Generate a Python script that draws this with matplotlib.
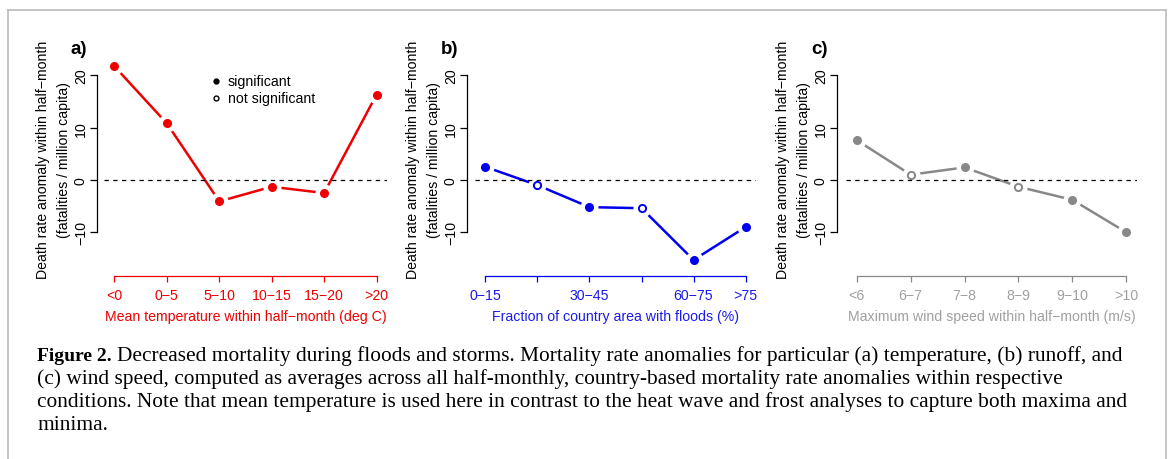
import matplotlib
matplotlib.use('Agg')
import matplotlib.pyplot as plt
from matplotlib.lines import Line2D
import numpy as np

plt.rcParams['font.family'] = ['Liberation Sans', 'DejaVu Sans']

# data
temp_cats = ['<0', '0−5', '5−10', '10−15', '15−20', '>20']
temp_vals = [21.7, 10.8, -4.1, -1.3, -2.5, 16.3]
temp_sig = [True, True, True, True, True, True]

flood_cats = ['0−15', '15−30', '30−45', '45−60', '60−75', '>75']
flood_vals = [2.5, -1.0, -5.2, -5.4, -15.3, -9.0]
flood_sig = [True, False, True, False, True, True]
flood_show = [True, False, True, False, True, True]   # R dropped overlapping labels

wind_cats = ['<6', '6−7', '7−8', '8−9', '9−10', '>10']
wind_vals = [7.6, 1.0, 2.4, -1.3, -3.8, -10.0]
wind_sig = [True, False, True, False, True, True]

yticks = [-10, 0, 10, 20]
ylab1 = 'Death rate anomaly within half−month'
ylab2 = '(fatalities / million capita)'

W, H = 1169, 460
FS = 10.2
fig = plt.figure(figsize=(W / 100, H / 100), dpi=100)


def px(x, y):
    return x / W, 1 - y / H


def panel(left, right, spine_x, cats, vals, sig, col, txtcol, xlabel, tag, show=None):
    top, bottom = 58, 272.5
    ax = fig.add_axes([left / W, 1 - bottom / H, (right - left) / W, (bottom - top) / H])
    ax.set_xlim(0.8, 6.2)
    ax.set_ylim(-17.5, 23.5)
    ax.patch.set_alpha(0)
    for s in ['top', 'right']:
        ax.spines[s].set_visible(False)
    ax.spines['left'].set_position(('outward', (left - spine_x) * 0.72))
    ax.spines['left'].set_bounds(-10, 20)
    ax.spines['bottom'].set_position(('outward', 4.5 * 0.72))
    ax.spines['bottom'].set_bounds(1, 6)
    ax.spines['left'].set_linewidth(0.9)
    ax.spines['bottom'].set_linewidth(0.9)
    ax.spines['bottom'].set_color(col)

    x = np.arange(1, len(vals) + 1)
    ax.set_xticks(x)
    labels = cats if show is None else [c if s else '' for c, s in zip(cats, show)]
    ax.set_xticklabels(labels, color=txtcol, fontsize=FS)
    ax.tick_params(axis='x', colors=col, labelcolor=txtcol, length=4.5, width=0.9, pad=4.5)
    ax.set_yticks(yticks)
    ax.set_yticklabels([str(v).replace('-', '−') for v in yticks], rotation=90, va='center', fontsize=FS)
    ax.tick_params(axis='y', length=5, width=0.9, pad=1.5)
    ax.set_xlabel(xlabel, color=txtcol, fontsize=FS, labelpad=5)

    # type="b" style: line with gaps around the points
    ax.plot(x, vals, color=col, lw=1.8, zorder=2, solid_capstyle='butt')
    ax.plot(x, vals, 'o', ms=13, mfc='white', mec='none', zorder=3)
    sig = np.array(sig)
    v = np.array(vals)
    ax.plot(x[sig], v[sig], 'o', ms=5.5, color=col, mec=col, zorder=4)
    ax.plot(x[~sig], v[~sig], 'o', ms=5.2, mfc='white', mec=col, mew=1.4, zorder=4)
    ax.axhline(0, color='black', lw=0.9, ls=(0, (3.5, 3.5)), zorder=5)

    ax.text(-0.09, 1.04, tag, transform=ax.transAxes, fontsize=13.5,
            fontweight='bold', ha='center', va='center')
    fig.text(*px(spine_x - 54, 160), ylab1, rotation=90, ha='center', va='center', fontsize=FS)
    fig.text(*px(spine_x - 33, 160), ylab2, rotation=90, ha='center', va='center', fontsize=FS)
    return ax


axa = panel(104, 387, 97, temp_cats, temp_vals, temp_sig, '#ee0000', '#ee0000',
            'Mean temperature within half−month (deg C)', 'a)')
axb = panel(475, 756, 467, flood_cats, flood_vals, flood_sig, '#0000ee', '#1a1aee',
            'Fraction of country area with floods (%)', 'b)', show=flood_show)
axc = panel(846, 1137, 837, wind_cats, wind_vals, wind_sig, '#888888', '#a0a0a0',
            'Maximum wind speed within half−month (m/s)', 'c)')

# legend of panel a
fig.add_artist(Line2D([216 / W], [1 - 82 / H], marker='o', ms=3.5, color='black', ls='none'))
fig.add_artist(Line2D([216 / W], [1 - 99 / H], marker='o', ms=3.5, mfc='white', mec='black',
                      mew=1.0, ls='none'))
fig.text(*px(228, 82), 'significant', fontsize=FS, va='center')
fig.text(*px(228, 99), 'not significant', fontsize=FS, va='center')

# frame
frame_col = '#bbbbbb'
fig.add_artist(Line2D([8 / W, 1166 / W], [1 - 11 / H, 1 - 11 / H], color=frame_col, lw=1.2))
fig.add_artist(Line2D([8 / W, 8 / W], [1 - 11 / H, 0], color=frame_col, lw=1.2))
fig.add_artist(Line2D([1166 / W, 1166 / W], [1 - 11 / H, 0], color=frame_col, lw=1.2))

# caption
cap_font = ['Liberation Serif', 'DejaVu Serif']
cap_size = 15.4
lines = [
    'Decreased mortality during floods and storms. Mortality rate anomalies for particular (a) temperature, (b) runoff, and',
    '(c) wind speed, computed as averages across all half-monthly, country-based mortality rate anomalies within respective',
    'conditions. Note that mean temperature is used here in contrast to the heat wave and frost analyses to capture both maxima and',
    'minima.',
]
baselines = [361, 384, 407, 430]
r = fig.canvas.get_renderer()
t0 = fig.text(*px(37, baselines[0]), 'Figure 2.', family=cap_font, fontsize=14,
              fontweight='bold', va='baseline')
bb = t0.get_window_extent(renderer=r)
fig.text(bb.x1 / W + 5 / W, 1 - baselines[0] / H, lines[0], family=cap_font, fontsize=cap_size,
         va='baseline')
for txt, b in zip(lines[1:], baselines[1:]):
    fig.text(*px(37, b), txt, family=cap_font, fontsize=cap_size, va='baseline')

fig.savefig('out.png', dpi=100, facecolor='white')
